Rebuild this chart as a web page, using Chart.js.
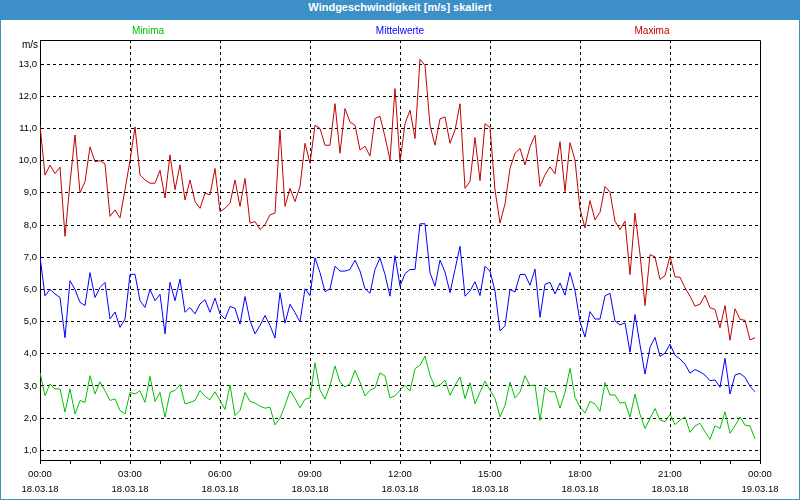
<!DOCTYPE html>
<html lang="de">
<head>
  <meta charset="UTF-8" />
  <title>Windgeschwindigkeit</title>
  <script src="https://cdn.jsdelivr.net/npm/chart.js"></script>
  <style>
    html, body { margin: 0; padding: 0; background: #fff; }
    .frame {
      width: 800px; height: 500px; box-sizing: border-box;
      border: 1px solid #3c8fc7; background: #fff; overflow: hidden;
    }
    .header {
      height: 19px; line-height: 19px; background: #3c8fc7; color: #fff;
      font: bold 11px "Liberation Sans", Arial, sans-serif; text-align: center;
    }
    .wrap { position: relative; width: 798px; height: 479px; }
  </style>
</head>
<body>
  <div class="frame">
    <div class="header">Windgeschwindigkeit [m/s] skaliert</div>
    <div class="wrap"><canvas id="chart"></canvas></div>
  </div>

  <script>
    // Werte alle 10 Minuten, 18.03.18 00:00 bis 23:50
    const minima = [
      3.42, 2.70, 3.06, 2.91, 2.91, 2.19, 2.91, 2.13, 2.55, 2.49, 3.32, 2.75,
      3.13, 2.85, 2.55, 2.60, 2.24, 2.13, 2.80, 2.75, 2.85, 2.49, 3.30, 2.52,
      2.80, 2.03, 2.80, 2.86, 3.04, 2.44, 2.49, 2.55, 2.86, 2.68, 2.57, 2.82,
      2.55, 2.27, 3.03, 2.08, 2.24, 2.80, 2.52, 2.47, 2.37, 2.31, 2.34, 1.79,
      2.00, 2.40, 2.85, 2.61, 2.32, 2.59, 2.63, 3.72, 2.87, 2.59, 3.02, 3.62,
      3.12, 2.97, 3.07, 3.48, 3.12, 2.69, 2.87, 2.94, 3.41, 3.31, 2.63, 2.69,
      2.87, 3.02, 2.84, 3.54, 3.64, 3.93, 3.33, 2.97, 3.04, 3.18, 2.71, 3.02,
      3.28, 2.61, 3.10, 2.45, 2.81, 3.15, 2.87, 2.61, 2.04, 2.40, 3.12, 2.63,
      2.81, 3.32, 3.01, 3.03, 1.93, 2.96, 2.82, 2.82, 2.31, 2.80, 3.55, 2.65,
      2.34, 2.16, 2.52, 2.44, 2.21, 3.11, 2.72, 2.72, 2.47, 2.49, 2.03, 2.75,
      2.12, 1.68, 1.99, 2.30, 1.94, 1.89, 2.12, 1.80, 1.94, 2.04, 1.56, 1.76,
      1.84, 1.58, 1.34, 1.76, 1.68, 2.20, 1.53, 1.76, 2.04, 1.78, 1.76, 1.35
    ];
    const mittelwerte = [
      7.01, 5.80, 6.00, 5.86, 5.75, 4.50, 6.27, 6.00, 5.60, 5.50, 6.52, 5.75,
      6.06, 6.22, 5.08, 5.30, 4.82, 5.08, 6.47, 6.47, 5.65, 5.44, 6.00, 5.65,
      5.85, 4.62, 6.22, 5.65, 6.32, 5.29, 5.44, 5.24, 5.55, 5.68, 5.29, 5.73,
      5.24, 5.08, 5.47, 5.41, 4.92, 5.78, 5.03, 4.62, 4.88, 5.19, 4.88, 4.49,
      5.90, 4.95, 5.54, 5.28, 4.99, 6.02, 5.81, 6.98, 6.52, 5.93, 6.02, 6.72,
      6.57, 6.57, 6.62, 6.91, 6.57, 6.02, 5.88, 6.62, 6.98, 6.46, 5.79, 7.05,
      6.10, 6.49, 6.62, 6.62, 8.04, 8.04, 6.52, 6.10, 6.91, 6.54, 5.90, 6.62,
      7.34, 5.79, 5.95, 6.24, 5.81, 6.72, 6.57, 5.95, 4.71, 4.87, 6.00, 5.92,
      6.46, 6.47, 6.13, 6.63, 5.13, 6.16, 6.22, 5.86, 6.20, 5.82, 6.53, 5.96,
      5.00, 4.52, 5.31, 5.08, 5.08, 5.80, 5.88, 5.02, 4.90, 4.96, 4.05, 5.22,
      4.28, 3.37, 4.20, 4.51, 3.92, 4.02, 4.30, 3.96, 3.84, 3.68, 3.40, 3.51,
      3.44, 3.34, 3.16, 3.19, 2.96, 3.86, 2.75, 3.34, 3.39, 3.27, 2.99, 2.82
    ];
    const maxima = [
      11.10, 9.55, 9.86, 9.60, 9.80, 7.65, 9.30, 10.80, 9.00, 9.35, 10.43, 9.97,
      10.00, 9.90, 8.27, 8.47, 8.22, 9.10, 10.00, 11.05, 9.56, 9.40, 9.30, 9.30,
      9.70, 8.84, 10.18, 9.10, 9.87, 8.78, 9.40, 8.73, 8.52, 8.99, 8.94, 9.76,
      8.42, 8.52, 8.68, 9.40, 8.58, 9.45, 8.06, 8.11, 7.86, 8.01, 8.32, 8.37,
      10.95, 8.58, 9.14, 8.73, 9.20, 10.54, 9.92, 11.10, 11.00, 10.48, 10.48, 11.77,
      10.23, 11.62, 11.20, 11.10, 10.33, 10.45, 10.14, 11.31, 11.38, 10.74, 10.02, 12.24,
      9.95, 11.15, 11.57, 10.69, 13.15, 12.96, 11.10, 10.48, 11.30, 11.36, 10.54, 10.95,
      11.77, 9.14, 9.35, 10.72, 9.38, 11.15, 11.03, 9.09, 8.06, 8.66, 9.76, 10.23,
      10.38, 9.87, 10.43, 10.79, 9.20, 9.56, 9.81, 9.59, 10.59, 9.04, 10.56, 10.02,
      8.50, 7.91, 8.76, 8.16, 8.40, 9.20, 9.02, 8.12, 7.86, 8.12, 6.46, 8.37,
      7.10, 5.50, 7.08, 7.01, 6.31, 6.43, 7.03, 6.39, 6.38, 6.05, 5.79, 5.48,
      5.54, 5.82, 5.43, 5.38, 4.81, 5.50, 4.42, 5.40, 5.07, 5.04, 4.43, 4.50
    ];

    const tickTimes = ['00:00', '03:00', '06:00', '09:00', '12:00', '15:00', '18:00', '21:00', '00:00'];
    const tickDates = ['18.03.18', '18.03.18', '18.03.18', '18.03.18', '18.03.18', '18.03.18', '18.03.18', '18.03.18', '19.03.18'];
    const yTicks = [1, 2, 3, 4, 5, 6, 7, 8, 9, 10, 11, 12, 13];

    const FONT = '"Liberation Sans", Arial, sans-serif';
    const toPoints = arr => arr.map((v, i) => ({ x: i * 10, y: v }));

    // Legende als farbiger Text ueber dem Diagramm, Einheit links oben, Rahmen
    const decorPlugin = {
      id: 'decor',
      afterDraw(chart) {
        const ctx = chart.ctx;
        const a = chart.chartArea;
        ctx.save();
        ctx.strokeStyle = '#000';
        ctx.lineWidth = 1;
        ctx.beginPath();
        ctx.moveTo(Math.round(a.left) + 0.5, Math.round(a.top) + 0.5);
        ctx.lineTo(Math.round(a.right) + 0.5, Math.round(a.top) + 0.5);
        ctx.lineTo(Math.round(a.right) + 0.5, Math.round(a.bottom) + 0.5);
        ctx.stroke();

        ctx.font = '10px ' + FONT;
        ctx.textBaseline = 'middle';
        ctx.textAlign = 'center';
        const cx = chart.width / 2;
        const offs = [-252, 0, 252];
        chart.data.datasets.forEach((ds, i) => {
          ctx.fillStyle = ds.borderColor;
          ctx.fillText(ds.label, cx + offs[i], 11);
        });

        ctx.fillStyle = '#000';
        ctx.textAlign = 'right';
        ctx.fillText('m/s', 37, 25);
        ctx.restore();
      }
    };

    new Chart(document.getElementById('chart'), {
      type: 'line',
      data: {
        datasets: [
          { label: 'Minima', data: toPoints(minima), borderColor: '#00c000' },
          { label: 'Mittelwerte', data: toPoints(mittelwerte), borderColor: '#0000ff' },
          { label: 'Maxima', data: toPoints(maxima), borderColor: '#c00000' }
        ]
      },
      options: {
        responsive: true,
        maintainAspectRatio: false,
        animation: false,
        elements: {
          line: { borderWidth: 1, tension: 0, fill: false },
          point: { radius: 0 }
        },
        layout: { padding: { top: 20, right: 39, left: 0, bottom: 0 } },
        plugins: {
          legend: { display: false },
          title: { display: false },
          tooltip: { enabled: false }
        },
        scales: {
          x: {
            type: 'linear',
            min: 0,
            max: 1440,
            afterFit: s => { s.height = 39; },
            afterBuildTicks: s => {
              const t = [];
              for (let m = 0; m <= 1440; m += 60) t.push({ value: m });
              s.ticks = t;
            },
            ticks: {
              autoSkip: false,
              maxRotation: 0,
              padding: 3,
              color: '#000',
              font: { family: FONT, size: 9.5, lineHeight: '15px' },
              callback: v => (v % 180 === 0 ? [tickTimes[v / 180], tickDates[v / 180]] : '')
            },
            grid: {
              color: c => (c.tick && c.tick.value % 180 === 0 && c.tick.value > 0 && c.tick.value < 1440) ? '#000' : 'rgba(0,0,0,0)',
              tickColor: '#000',
              tickLength: 4,
              tickBorderDash: [],
              lineWidth: 1
            },
            border: { display: true, color: '#000', width: 1, dash: [3, 3] }
          },
          y: {
            min: 0.7,
            max: 13.75,
            afterFit: s => { s.width = 39; },
            afterBuildTicks: s => { s.ticks = yTicks.map(v => ({ value: v })); },
            ticks: {
              padding: 3,
              color: '#000',
              font: { family: FONT, size: 9.5 },
              callback: v => v.toFixed(1).replace('.', ',')
            },
            grid: { color: '#000', drawTicks: false, lineWidth: 1 },
            border: { display: true, color: '#000', width: 1, dash: [3, 3] }
          }
        }
      },
      plugins: [decorPlugin]
    });
  </script>
</body>
</html>
